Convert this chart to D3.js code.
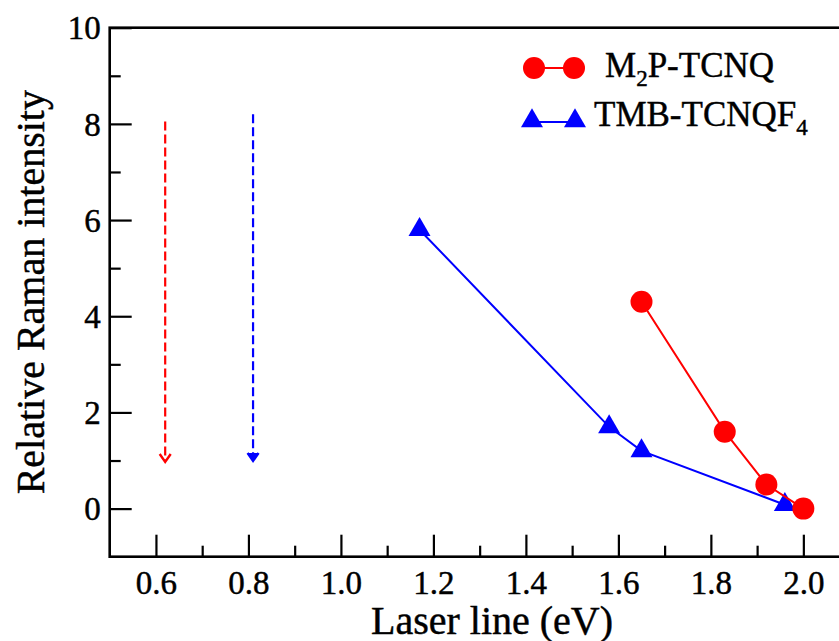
<!DOCTYPE html>
<html>
<head>
<meta charset="utf-8">
<script src="https://cdn.jsdelivr.net/npm/d3@7"></script>
<style>
  html, body { margin: 0; padding: 0; background: #fff; overflow: hidden; }
  svg { display: block; }
</style>
</head>
<body>
<svg id="chart" width="839" height="641"></svg>
<script>
// ---- data ----
const m2pX = [1.65, 1.83, 1.92, 2.00];
const m2pY = [4.3, 1.6, 0.5, 0.0];
const tmbX = [1.17, 1.58, 1.65, 1.96];
const tmbY = [5.8, 1.7, 1.2, 0.08];
const arrowX = [0.62, 0.81];
const arrowTop = [8.05, 8.2];
const arrowBottom = [0.97, 0.99];
const arrowColors = ["#ff0000", "#0000ff"];
const xTicks = [0.6, 0.8, 1.0, 1.2, 1.4, 1.6, 1.8, 2.0];
const xMinorTicks = [0.7, 0.9, 1.1, 1.3, 1.5, 1.7, 1.9];
const yTicks = [0, 2, 4, 6, 8, 10];
const yMinorTicks = [1, 3, 5, 7, 9];

const FONT = "'Liberation Serif', 'Times New Roman', serif";
const TS = 0.45; // slight text stroke to match heavier glyphs

const svg = d3.select("#chart").style("font-family", FONT);
const pLeft = 109.7, pRight = 849.6, pTop = 27.7, pBottom = 556.7;
const x = d3.scaleLinear().domain([0.5, 2.1]).range([pLeft, pRight]);
const y = d3.scaleLinear().domain([-1, 10]).range([pBottom, pTop]);

function styleText(sel, size) {
  return sel.style("font-family", FONT).attr("font-size", size)
    .attr("fill", "#000").attr("stroke", "#000").attr("stroke-width", TS);
}

// frame
svg.append("rect")
  .attr("x", pLeft).attr("y", pTop)
  .attr("width", pRight - pLeft).attr("height", pBottom - pTop)
  .attr("fill", "none").attr("stroke", "#000").attr("stroke-width", 2.6);

// x axis ticks (inward)
const xAxis = d3.axisBottom(x).tickValues(xTicks).tickFormat(d3.format(".1f"))
  .tickSizeInner(-22).tickSizeOuter(0);
const gx = svg.append("g").attr("transform", `translate(0,${pBottom})`).call(xAxis);
gx.attr("font-family", null).attr("font-size", null);
gx.select(".domain").remove();
gx.selectAll(".tick line").attr("stroke", "#000").attr("stroke-width", 2.2);
styleText(gx.selectAll(".tick text"), 33).attr("dy", "0").attr("y", 37);

const xMinor = d3.axisBottom(x).tickValues(xMinorTicks).tickFormat("")
  .tickSizeInner(-11).tickSizeOuter(0);
const gxm = svg.append("g").attr("transform", `translate(0,${pBottom})`).call(xMinor);
gxm.select(".domain").remove();
gxm.selectAll(".tick line").attr("stroke", "#000").attr("stroke-width", 2.2);

// y axis ticks (inward)
const yAxis = d3.axisLeft(y).tickValues(yTicks).tickFormat(d3.format("d"))
  .tickSizeInner(-22).tickSizeOuter(0);
const gy = svg.append("g").attr("transform", `translate(${pLeft},0)`).call(yAxis);
gy.attr("font-family", null).attr("font-size", null);
gy.select(".domain").remove();
gy.selectAll(".tick line").attr("stroke", "#000").attr("stroke-width", 2.2);
styleText(gy.selectAll(".tick text"), 33).attr("x", -9).attr("dy", "0.34em");

const yMinor = d3.axisLeft(y).tickValues(yMinorTicks).tickFormat("")
  .tickSizeInner(-11).tickSizeOuter(0);
const gym = svg.append("g").attr("transform", `translate(${pLeft},0)`).call(yMinor);
gym.select(".domain").remove();
gym.selectAll(".tick line").attr("stroke", "#000").attr("stroke-width", 2.2);

// axis titles
styleText(svg.append("text").attr("x", 492).attr("y", 634), 40)
  .attr("text-anchor", "middle").text("Laser line (eV)");
styleText(svg.append("text")
  .attr("transform", `translate(44,${(pTop + pBottom) / 2}) rotate(-90)`), 40)
  .attr("text-anchor", "middle").text("Relative Raman intensity");

// dashed arrows
arrowX.forEach((ax, i) => {
  const c = arrowColors[i];
  svg.append("line")
    .attr("x1", x(ax)).attr("x2", x(ax))
    .attr("y1", y(arrowTop[i])).attr("y2", y(arrowBottom[i]) - 2)
    .attr("stroke", c).attr("stroke-width", 2.2)
    .attr("stroke-dasharray", "9,4");
  const tx = x(ax), ty = y(arrowBottom[i]);
  svg.append("path")
    .attr("d", `M${tx - 5.5},${ty - 8} L${tx},${ty} L${tx + 5.5},${ty - 8}`)
    .attr("fill", i === 1 ? c : "none").attr("stroke", c).attr("stroke-width", 2.4)
    .attr("stroke-linejoin", "miter");
});

const line = d3.line().x(d => x(d[0])).y(d => y(d[1]));
const m2p = m2pX.map((v, i) => [v, m2pY[i]]);
const tmb = tmbX.map((v, i) => [v, tmbY[i]]);

const triSym = d3.symbol().type(d3.symbolTriangle).size(210);

// TMB series
svg.append("path").datum(tmb).attr("d", line)
  .attr("fill", "none").attr("stroke", "#0000ff").attr("stroke-width", 2);
svg.selectAll(".tri").data(tmb).enter().append("path")
  .attr("transform", d => `translate(${x(d[0])},${y(d[1])})`)
  .attr("d", triSym).attr("fill", "#0000ff");

// M2P series
svg.append("path").datum(m2p).attr("d", line)
  .attr("fill", "none").attr("stroke", "#ff0000").attr("stroke-width", 2);
svg.selectAll(".circ").data(m2p).enter().append("circle")
  .attr("cx", d => x(d[0])).attr("cy", d => y(d[1])).attr("r", 11)
  .attr("fill", "#ff0000");

// legend
const lg = svg.append("g");
lg.append("line").attr("x1", 534).attr("x2", 574).attr("y1", 68).attr("y2", 68)
  .attr("stroke", "#ff0000").attr("stroke-width", 2);
[534, 574].forEach(cx => lg.append("circle").attr("cx", cx).attr("cy", 68).attr("r", 11).attr("fill", "#ff0000"));
lg.append("line").attr("x1", 532).attr("x2", 575).attr("y1", 122).attr("y2", 122)
  .attr("stroke", "#0000ff").attr("stroke-width", 2);
[532, 575].forEach(cx => lg.append("path").attr("transform", `translate(${cx},121)`).attr("d", triSym).attr("fill", "#0000ff"));

const t1 = styleText(lg.append("text").attr("x", 605).attr("y", 77), 35);
t1.append("tspan").text("M");
t1.append("tspan").attr("font-size", 23).attr("dy", 9).text("2");
t1.append("tspan").attr("dy", -9).text("P-TCNQ");

const t2 = styleText(lg.append("text").attr("x", 594).attr("y", 126), 35);
t2.append("tspan").text("TMB-TCNQF");
t2.append("tspan").attr("font-size", 23).attr("dy", 9).text("4");
</script>
</body>
</html>
